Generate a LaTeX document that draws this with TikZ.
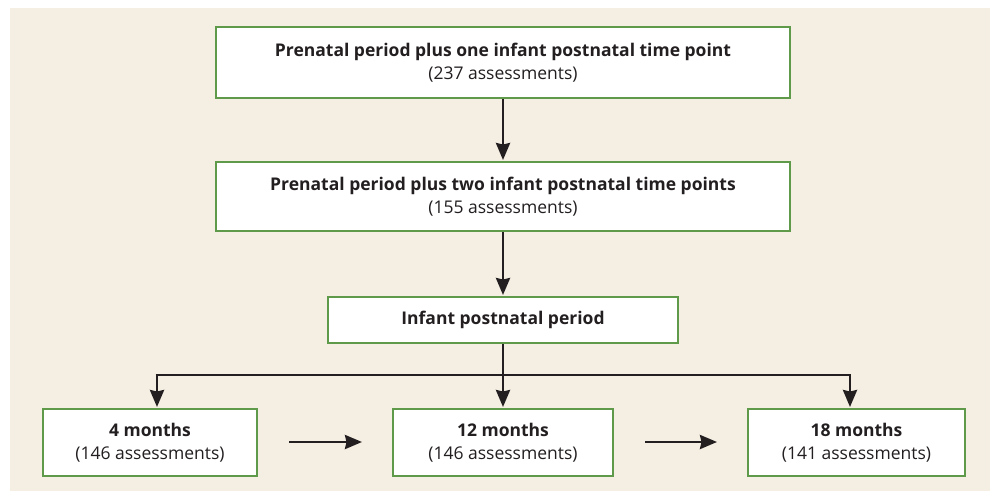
\documentclass[tikz,border=0pt]{standalone}
\usepackage{fontspec}
\setmainfont{Open Sans}
\usetikzlibrary{arrows.meta}
\definecolor{bg}{HTML}{F5EEE3}
\definecolor{grn}{HTML}{5F9A4B}
\definecolor{ink}{HTML}{231F20}
\begin{document}
\begin{tikzpicture}[x=1pt,y=-1pt,
  box/.style={draw=grn,line width=2pt,fill=white,rectangle,inner sep=0pt,align=center,
    text=ink,font=\fontsize{17.5}{23}\selectfont},
  arr/.style={draw=ink,line width=2.8pt,-{Stealth[length=17pt,width=14pt,inset=1.5pt]},shorten >=1pt},
  ln/.style={draw=ink,line width=2.8pt}]
\useasboundingbox (0,0) rectangle (990,491);
\fill[white] (0,0) rectangle (990,491);
\fill[bg] (10,8) rectangle (990,491);
\node[box,minimum width=574pt,minimum height=71pt] (b1) at (503,62.5)
  {\textbf{Prenatal period plus one infant postnatal time point}\\(237 assessments)};
\node[box,minimum width=574pt,minimum height=69pt] (b2) at (503,196.5)
  {\textbf{Prenatal period plus two infant postnatal time points}\\(155 assessments)};
\node[box,minimum width=350pt,minimum height=46pt] (b3) at (503,320)
  {\textbf{Infant postnatal period}};
\node[box,minimum width=214pt,minimum height=67pt] (b4) at (150,442.5)
  {\textbf{4 months}\\(146 assessments)};
\node[box,minimum width=220pt,minimum height=67pt] (b5) at (503,442.5)
  {\textbf{12 months}\\(146 assessments)};
\node[box,minimum width=217pt,minimum height=67pt] (b6) at (856.5,442.5)
  {\textbf{18 months}\\(141 assessments)};
\coordinate (jl) at (157,375);
\coordinate (jr) at (850,375);
\coordinate (h1s) at (289,442);
\coordinate (h1e) at (362,442);
\coordinate (h2s) at (645,442);
\coordinate (h2e) at (717,442);
\draw[arr] (b1) -- (b2);
\draw[arr] (b2) -- (b3);
\draw[arr] (b3) -- (b5);
\draw[ln] ([xshift=-1.4pt]jl) -- ([xshift=1.4pt]jr);
\draw[arr] (jl) -- (jl |- b4.north);
\draw[arr] (jr) -- (jr |- b6.north);
\draw[arr,shorten >=0pt] (h1s) -- (h1e);
\draw[arr,shorten >=0pt] (h2s) -- (h2e);
\end{tikzpicture}
\end{document}
